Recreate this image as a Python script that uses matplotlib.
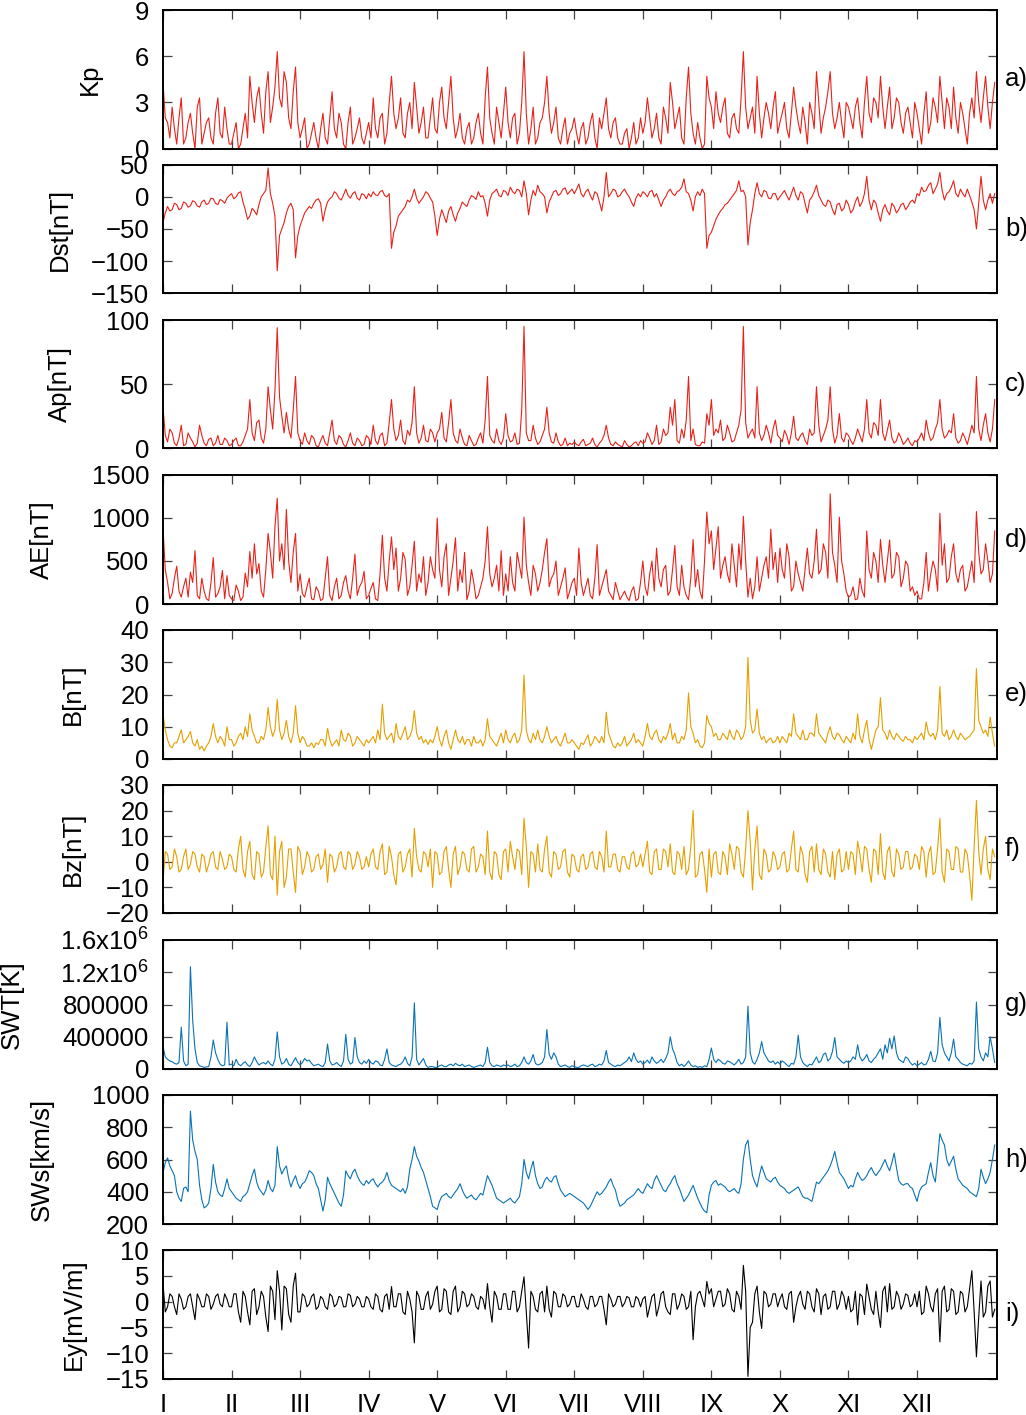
import numpy as np
import matplotlib.pyplot as plt

# readings on even days (0..364, 183 values) and odd days (1..363, 182 values)
day = np.arange(0, 365)

months = ['I', 'II', 'III', 'IV', 'V', 'VI', 'VII', 'VIII', 'IX', 'X', 'XI', 'XII']
month_days = [0, 30, 60, 90, 120, 150, 180, 210, 240, 270, 300, 330]

# --- values, one row per month (15 samples) ---
kp_even = [4.3, 1.7, 2.7, 0.3, 3.3, 0.7, 2.3, 0.0, 3.3, 1.0, 2.0, 0.3, 3.3, 0.7, 1.3,
           0.3, 1.7, 0.3, 2.3, 4.7, 1.7, 4.0, 1.0, 5.0, 2.7, 6.3, 2.7, 4.3, 1.3, 5.3,
           0.7, 2.0, 0.3, 1.7, 0.0, 2.3, 0.3, 3.7, 0.7, 1.7, 0.0, 2.7, 0.7, 2.0, 0.3,
           1.7, 3.3, 0.7, 2.3, 1.0, 4.7, 1.3, 3.3, 0.7, 3.0, 4.3, 1.0, 2.7, 0.7, 3.3,
           1.0, 4.0, 1.3, 4.7, 0.7, 2.3, 0.3, 1.7, 0.7, 2.3, 0.3, 5.3, 1.0, 2.7, 0.7,
           4.0, 0.7, 2.3, 1.0, 6.3, 0.3, 2.7, 0.7, 2.0, 4.7, 1.0, 2.7, 0.3, 2.0, 1.0,
           2.0, 0.3, 1.7, 0.7, 2.3, 0.0, 1.3, 3.3, 0.7, 2.0, 0.3, 1.0, 0.0, 1.7, 0.7,
           1.0, 3.3, 0.7, 2.3, 0.3, 2.0, 4.3, 1.3, 2.7, 0.3, 5.3, 1.0, 1.7, 0.0, 4.7,
           2.7, 3.7, 1.7, 3.3, 0.7, 2.3, 1.0, 6.3, 1.3, 2.7, 4.7, 0.7, 3.0, 1.3, 3.7,
           1.7, 3.0, 0.7, 4.0, 1.7, 2.7, 0.3, 2.3, 5.0, 1.0, 2.7, 5.0, 1.3, 3.0, 0.7,
           2.7, 1.3, 3.3, 0.7, 4.7, 1.7, 3.0, 4.7, 1.3, 4.0, 2.0, 3.0, 1.0, 2.7, 0.7,
           2.3, 0.3, 3.7, 1.7, 2.7, 4.7, 1.3, 2.7, 4.0, 1.0, 2.3, 0.3, 3.3, 5.0, 1.7,
           4.7, 1.3, 4.3]
kp_odd = [2.0, 0.7, 1.3, 2.0, 0.3, 1.7, 1.0, 2.7, 0.3, 1.7, 0.7, 2.3, 1.0, 2.7, 0.3,
          1.0, 0.0, 1.3, 0.7, 3.0, 3.3, 2.3, 3.7, 1.7, 4.0, 3.3, 5.0, 2.0, 3.7, 1.7,
          1.3, 0.0, 1.0, 0.7, 1.3, 0.7, 2.0, 1.3, 2.3, 0.3, 1.7, 0.3, 1.3, 0.7, 1.0,
          0.7, 1.3, 2.0, 0.3, 3.0, 2.3, 2.0, 1.0, 2.3, 1.3, 2.7, 1.7, 0.7, 2.0, 1.3,
          3.0, 2.0, 3.0, 2.0, 1.3, 0.7, 1.3, 0.3, 1.7, 1.0, 3.3, 2.0, 0.3, 1.7, 2.3,
          1.7, 2.0, 0.3, 3.0, 2.3, 1.3, 0.3, 1.7, 3.0, 2.3, 1.7, 0.7, 1.3, 0.3, 1.3,
          1.0, 1.3, 0.3, 1.7, 0.7, 2.0, 2.3, 1.3, 1.7, 0.7, 0.3, 1.3, 0.7, 0.3, 2.0,
          1.7, 2.0, 1.3, 0.7, 2.7, 1.0, 3.0, 2.0, 0.7, 3.3, 2.3, 0.3, 0.7, 0.3, 3.3,
          1.3, 2.3, 2.7, 1.0, 2.0, 1.3, 3.3, 2.7, 2.0, 1.0, 2.3, 2.0, 2.3, 2.7, 1.0,
          2.3, 1.3, 2.3, 2.7, 1.0, 1.7, 3.0, 1.3, 3.0, 2.0, 3.7, 2.3, 2.0, 1.7, 3.0,
          2.0, 2.7, 1.7, 3.0, 2.3, 3.3, 2.0, 2.7, 2.7, 1.3, 3.3, 1.7, 2.3, 1.7, 3.0,
          1.3, 2.3, 1.0, 3.3, 1.7, 3.0, 3.3, 1.3, 2.0, 3.0, 1.3, 2.3, 2.0, 3.0, 3.3,
          2.7, 3.0]

dst_even = [-40, -15, -20, -12, -18, -10, -14, -8, -16, -5, -10, -3, -12, -6, -2,
            5, 0, 8, -20, -30, -22, -12, 5, 45, -10, -115, -50, -25, -10, -95,
            -45, -25, -15, -10, -3, -38, -8, 0, 5, -5, 12, -2, 8, -5, 3,
            5, 8, 2, 10, 0, -80, -45, -25, -15, -8, 12, -10, 0, 5, -8,
            -60, -20, -40, -15, -38, -18, -12, -5, 0, 8, 2, -30, 5, 12, 0,
            8, 15, 5, 10, 25, -28, 10, 18, 5, -25, 0, 10, 5, 14, 8,
            5, 20, 0, 12, -5, 5, -22, 38, 5, 10, 2, 12, 0, -15, 5,
            8, 0, 10, 5, -15, 0, 12, 2, 10, 28, 5, -22, 8, 12, -80,
            -55, -35, -22, -12, -5, 5, 25, 10, -75, -20, 22, 0, 8, -3, 5,
            0, 10, -5, 15, -5, 5, -25, 0, 18, -5, -15, -8, -28, -10, -18,
            -12, -20, 0, -8, 32, -20, -10, -38, -12, -28, -15, -20, -10, -15, -5,
            5, 15, 10, 22, 12, 38, -5, 8, 25, 0, 5, 12, -8, -50, 32,
            -20, 5, 5]
dst_odd = [-25, -22, -10, -20, -8, -16, -6, -14, -8, -12, -2, -10, -4, -10, 2,
           -3, 6, -8, -35, -18, -28, 0, 10, 5, -30, -60, -40, -15, -20, -60,
           -35, -20, -18, -5, -10, -20, -3, 8, -2, 3, 2, 5, -2, 5, -3,
           0, 3, 8, 2, 5, -55, -30, -20, -5, 0, -2, -5, 8, -2, -30,
           -35, -30, -22, -28, -25, -8, -15, 2, -4, 0, -10, -5, 8, 2, 10,
           2, 8, 12, 0, 5, -5, 2, 8, 0, -8, 8, 2, 12, 4, 12,
           12, 5, 8, 2, 8, -8, 0, 0, 12, 0, 8, 5, -8, -2, 0,
           5, 8, 0, -5, -5, 8, 5, 8, 15, 8, -5, 0, 2, 5, -60,
           -45, -28, -18, -10, 0, 10, 8, 0, -40, 5, 5, 10, -2, 5, -5,
           5, 2, 5, 2, 8, -10, -5, 8, 2, -12, -5, -20, -12, -22, -5,
           -25, -8, -15, 5, -5, -5, -25, -20, -22, -10, -25, -12, -20, -8, -10,
           2, 8, 18, 5, 20, 10, 5, 15, 5, 12, 0, 2, -20, -10, -5,
           -5, -10]

ap_even = [32, 5, 12, 2, 18, 3, 8, 1, 18, 4, 7, 2, 10, 3, 6,
           3, 8, 2, 10, 38, 6, 22, 4, 48, 15, 94, 25, 28, 8, 56,
           6, 12, 3, 8, 1, 10, 2, 22, 3, 8, 1, 12, 2, 6, 3,
           8, 18, 3, 12, 4, 38, 6, 22, 3, 10, 48, 4, 18, 5, 12,
           12, 28, 5, 38, 6, 15, 3, 10, 2, 8, 4, 56, 6, 15, 3,
           27, 5, 12, 4, 95, 6, 18, 3, 10, 32, 5, 12, 2, 8, 4,
           5, 2, 7, 3, 8, 1, 6, 18, 3, 5, 2, 6, 1, 4, 2,
           4, 12, 3, 18, 5, 10, 32, 38, 4, 8, 56, 15, 2, 5, 27,
           38, 15, 22, 8, 12, 6, 18, 95, 8, 15, 48, 6, 18, 4, 22,
           8, 14, 3, 25, 6, 12, 3, 10, 48, 5, 15, 48, 4, 27, 5,
           10, 3, 15, 5, 38, 8, 18, 38, 6, 22, 4, 12, 3, 8, 2,
           5, 12, 22, 6, 15, 38, 8, 14, 27, 4, 12, 3, 18, 56, 6,
           27, 5, 38]
ap_odd = [10, 15, 4, 8, 2, 12, 5, 4, 10, 2, 8, 4, 3, 8, 2,
          6, 2, 5, 15, 12, 20, 8, 15, 30, 45, 40, 12, 15, 30, 12,
          3, 6, 10, 2, 6, 4, 12, 6, 10, 3, 6, 4, 8, 2, 10,
          3, 6, 10, 2, 20, 15, 10, 6, 14, 20, 12, 8, 6, 15, 5,
          15, 8, 20, 12, 4, 8, 2, 6, 3, 12, 22, 10, 4, 6, 8,
          10, 6, 3, 30, 12, 6, 8, 5, 15, 12, 4, 5, 3, 2, 3,
          3, 5, 2, 4, 3, 4, 10, 8, 2, 3, 1, 3, 2, 5, 6,
          5, 8, 6, 3, 15, 12, 18, 6, 15, 22, 6, 3, 2, 4, 18,
          10, 12, 6, 18, 5, 12, 30, 20, 12, 8, 12, 10, 12, 15, 10,
          5, 10, 12, 8, 10, 6, 15, 12, 18, 10, 22, 15, 10, 8, 12,
          6, 8, 10, 15, 12, 20, 10, 12, 14, 8, 6, 8, 5, 4, 6,
          8, 6, 12, 8, 20, 15, 10, 12, 8, 6, 8, 10, 12, 15, 18,
          12, 15]

ae_even = [880, 250, 120, 440, 80, 300, 370, 620, 60, 150, 40, 540, 120, 390, 330,
           60, 220, 40, 360, 610, 700, 470, 80, 820, 300, 1230, 700, 1100, 250, 820,
           350, 80, 300, 50, 150, 60, 550, 40, 300, 100, 330, 60, 580, 200, 380,
           100, 250, 40, 800, 150, 780, 650, 300, 520, 200, 730, 350, 550, 250, 400,
           1000, 200, 700, 300, 770, 400, 600, 150, 250, 100, 300, 900, 200, 450, 620,
           350, 550, 150, 450, 1010, 250, 450, 150, 400, 760, 300, 500, 200, 420, 150,
           300, 650, 100, 300, 60, 690, 200, 400, 100, 250, 50, 150, 40, 200, 60,
           500, 100, 500, 650, 200, 450, 150, 680, 100, 200, 50, 750, 400, 60, 1070,
           850, 650, 300, 550, 250, 450, 700, 1020, 80, 60, 550, 300, 550, 870, 600,
           650, 300, 550, 200, 350, 150, 650, 300, 870, 400, 600, 1280, 450, 1010, 350,
           80, 200, 60, 150, 850, 300, 500, 750, 250, 745, 350, 550, 300, 450, 200,
           150, 60, 600, 350, 400, 1055, 700, 300, 700, 250, 450, 200, 500, 1075, 350,
           700, 250, 850]
ae_odd = [400, 60, 300, 150, 200, 80, 250, 100, 300, 60, 250, 80, 200, 60, 100,
          40, 150, 80, 200, 300, 350, 150, 400, 600, 900, 500, 400, 500, 600, 150,
          120, 200, 60, 200, 40, 300, 100, 200, 60, 250, 150, 300, 100, 250, 60,
          180, 60, 350, 300, 500, 400, 150, 600, 100, 450, 150, 250, 100, 550, 300,
          400, 550, 100, 500, 150, 250, 50, 400, 60, 200, 500, 350, 300, 150, 100,
          150, 250, 600, 300, 450, 100, 350, 250, 600, 200, 350, 100, 300, 60, 250,
          100, 250, 200, 100, 300, 100, 300, 150, 50, 150, 100, 80, 150, 40, 250,
          200, 350, 150, 300, 400, 100, 400, 200, 450, 100, 300, 200, 150, 500, 700,
          400, 900, 450, 350, 700, 200, 400, 500, 300, 200, 150, 450, 300, 400, 250,
          400, 700, 150, 500, 250, 400, 350, 500, 350, 700, 300, 600, 250, 500, 150,
          100, 50, 300, 80, 400, 600, 250, 450, 500, 300, 600, 200, 500, 150, 100,
          60, 250, 150, 500, 150, 450, 250, 550, 350, 400, 150, 350, 250, 600, 400,
          500, 350]

b_even = [14, 6, 3.5, 5, 9, 6, 8.5, 4, 3, 2.5, 5, 11, 5, 6, 10,
          6, 5, 8, 10, 14, 7, 5, 6, 16, 7, 18.5, 6, 12, 5, 16.5,
          5, 6, 4, 3.5, 4.5, 6, 9.5, 4, 6, 9, 5.5, 7, 5, 6, 4,
          5, 7, 9, 17, 6, 8, 11, 6, 10, 7, 15, 6, 5, 4.5, 5,
          10, 4, 9, 3, 9, 5, 4.5, 6, 7, 5, 4, 12.5, 6, 4, 8,
          9, 5, 8, 6, 26, 6, 8, 9, 5, 10, 5, 7, 4, 8, 5,
          5, 3, 4.5, 7.5, 5, 6, 7, 14.5, 6, 3.5, 4, 7, 5, 8, 6,
          4, 11, 6, 9, 5, 6, 11, 8, 5, 6, 20.5, 8, 6, 3.5, 13.5,
          10, 8, 6, 7, 9, 6, 8, 7, 31.5, 8, 15.5, 6, 5, 6.5, 5.5,
          5, 6, 8, 14, 7, 9, 6, 8, 14, 7, 5, 10, 6, 7.5, 5,
          6, 8, 14, 5, 12, 3, 9, 19, 8, 9, 6, 7, 5.5, 6, 5,
          6, 8, 11.5, 7, 6, 22.5, 7, 6, 9, 6, 7, 6.5, 8, 28, 10,
          9, 13, 4]
b_odd = [9, 4, 5, 7, 5, 7, 5, 6, 4, 4, 7, 7, 7, 4, 6,
         4, 7, 6, 7, 9, 5, 7, 9, 10, 9, 9, 8, 7, 8, 8,
         7, 4, 5, 5, 6, 4, 6, 5, 4, 6, 8, 4, 7, 5, 6,
         6, 5, 6, 8, 7, 5, 7, 8, 6, 9, 8, 7, 6, 6, 7,
         6, 7, 5, 6, 6, 7, 6, 4, 5, 6, 6, 7, 5, 6, 5,
         6, 7, 5, 9, 9, 5, 6, 6, 7, 7, 6, 5, 6, 5, 6,
         4, 5, 6, 4, 7, 5, 5, 8, 4, 5, 5, 4, 6, 5, 5,
         7, 7, 8, 6, 7, 8, 6, 5, 7, 9, 10, 5, 4, 5, 11,
         7, 6, 8, 6, 7, 9, 6, 10, 12, 9, 8, 7, 6, 5, 7,
         7, 5, 7, 8, 6, 6, 8, 7, 8, 6, 8, 7, 8, 6, 7,
         5, 6, 7, 9, 6, 6, 10, 9, 6, 7, 8, 6, 7, 6, 7,
         7, 6, 8, 8, 9, 8, 9, 7, 7, 8, 6, 7, 9, 12, 8,
         7, 8]

bz_even = [-8, 3, -2, 2, -3, 5, -1, 3, -4, 2, -1, 4, -3, 1, -2,
           2, -4, 10, -6, 8, -7, 3, -4, 14, -7, -13, 8, -6, 5, -12,
           4, -2, 2, -3, 3, -1, -8, 2, -2, 4, -3, 3, -1, 2, -2,
           -2, 5, -3, 7, -4, 2, -9, 4, -2, 5, 13, -3, 4, -2, -10,
           3, -4, 6, -10, 6, -2, 3, -4, 6, -2, 2, 12, -7, 3, -7,
           5, 8, -3, 4, 17, -10, 3, 7, -4, 10, -6, 3, -2, 5, -6,
           2, -4, 3, -2, 4, -3, 2, 12, -2, 3, -4, 2, -3, 4, -1,
           -2, 8, -5, 5, -3, 4, 7, -5, 3, 6, -3, 20, -5, 4, -12,
           -6, 4, -5, 2, 7, -3, 5, -6, 20, -11, 14, -7, 3, -3, 2,
           -2, 4, -3, 12, -4, 3, -8, 6, 7, -5, 3, -6, -7, 5, -3,
           -3, 3, 8, -4, 5, -8, 4, 11, -7, 6, -6, 3, -2, 4, -2,
           2, 6, -6, 6, -4, 17, -8, 4, -3, 5, -4, 3, -15, 24, -5,
           10, -7, 2]
bz_odd = [4, -3, 5, -4, 2, -3, 4, -2, 3, -4, 3, -2, 4, -3, 3,
          -3, 5, -3, 4, -5, 4, -6, 6, -5, 10, 4, -10, 5, -4, 6,
          -5, 4, -4, 2, -3, 5, 3, -4, 3, -2, 4, -3, 4, -3, 2,
          3, -2, 4, -5, 6, -5, 3, -4, 3, -6, 2, -4, 3, 5, 4,
          -5, 4, -3, 3, -5, 4, -3, 5, -4, 3, -5, -4, 4, -5, 4,
          -4, 2, 5, -5, 6, 4, -4, -3, 5, -4, 4, -3, 4, -4, 3,
          -3, 2, -3, 3, -2, 4, -4, -2, 3, -3, 2, -2, 3, -2, 3,
          3, -4, 4, -3, 5, -2, -4, 4, -3, -5, 6, -6, 3, -3, 5,
          3, -4, 4, -5, 3, 6, -4, 5, 8, 5, -5, 5, -4, 4, -3,
          3, -4, 5, -3, 6, -5, 4, -4, -3, 5, -4, 4, 3, -4, 4,
          4, -5, 3, 6, -3, 5, -5, -4, 4, -4, 5, -3, 4, -3, 3,
          -3, 4, 3, -5, 5, -4, 5, -3, 6, -4, 5, -5, 6, 4, 5,
          -3, 5]

# solar wind temperature in thousands of K
swt_even = [280, 120, 90, 60, 520, 40, 1270, 250, 40, 20, 30, 360, 120, 40, 580,
            60, 120, 40, 90, 30, 150, 50, 80, 100, 40, 460, 60, 130, 40, 140,
            50, 130, 110, 40, 60, 30, 310, 50, 80, 30, 430, 60, 390, 80, 100,
            120, 60, 90, 40, 250, 50, 30, 60, 150, 40, 820, 50, 130, 20, 30,
            20, 50, 30, 60, 70, 40, 30, 50, 20, 40, 30, 270, 40, 50, 30,
            40, 30, 60, 40, 150, 60, 180, 50, 80, 490, 120, 150, 30, 50, 20,
            30, 20, 50, 30, 60, 40, 50, 230, 60, 30, 40, 80, 150, 200, 80,
            60, 110, 150, 70, 120, 130, 400, 180, 40, 30, 100, 30, 20, 20, 30,
            260, 80, 100, 60, 90, 50, 120, 80, 780, 90, 120, 340, 150, 80, 60,
            60, 80, 30, 60, 420, 80, 30, 50, 150, 100, 200, 130, 390, 120, 70,
            80, 150, 300, 100, 180, 80, 150, 250, 300, 380, 410, 120, 80, 130, 50,
            40, 80, 60, 220, 90, 640, 200, 100, 370, 120, 60, 40, 60, 830, 150,
            200, 400, 80]
swt_odd = [150, 100, 70, 80, 100, 60, 600, 80, 30, 25, 150, 200, 60, 50, 50,
           40, 60, 70, 50, 80, 90, 70, 60, 60, 120, 150, 80, 60, 90, 80,
           80, 100, 70, 50, 40, 80, 100, 60, 50, 100, 120, 80, 150, 60, 70,
           80, 100, 50, 120, 80, 40, 50, 90, 70, 150, 120, 90, 50, 30, 20,
           40, 30, 50, 40, 50, 60, 40, 30, 30, 50, 80, 80, 30, 40, 50,
           50, 40, 30, 80, 80, 100, 70, 60, 150, 180, 200, 60, 40, 30, 40,
           20, 40, 40, 50, 30, 60, 100, 80, 40, 50, 60, 100, 90, 120, 100,
           80, 70, 100, 90, 80, 200, 250, 80, 60, 60, 50, 40, 30, 40, 120,
           120, 120, 70, 100, 70, 80, 60, 150, 200, 60, 200, 200, 100, 100, 90,
           100, 50, 70, 150, 150, 50, 60, 100, 80, 180, 100, 220, 150, 90, 100,
           100, 120, 150, 130, 100, 120, 200, 120, 200, 250, 200, 100, 150, 80, 70,
           60, 50, 120, 100, 200, 300, 150, 200, 150, 80, 50, 70, 100, 250, 100,
           150, 250]

sws_even = [520, 610, 530, 400, 340, 430, 900, 650, 440, 300, 330, 570, 400, 370, 480,
            400, 360, 340, 380, 450, 540, 420, 380, 470, 400, 680, 510, 560, 430, 500,
            420, 460, 530, 500, 420, 280, 490, 420, 360, 310, 530, 480, 540, 470, 440,
            450, 480, 430, 460, 520, 440, 420, 400, 390, 540, 680, 590, 520, 420, 310,
            290, 370, 390, 360, 400, 450, 380, 370, 360, 370, 380, 500, 440, 360, 340,
            340, 360, 330, 370, 600, 480, 590, 450, 430, 490, 460, 500, 410, 370, 390,
            370, 350, 330, 290, 340, 400, 390, 430, 480, 410, 310, 330, 360, 380, 420,
            390, 450, 420, 500, 440, 400, 450, 500, 420, 340, 380, 440, 360, 300, 270,
            440, 470, 450, 430, 400, 420, 390, 600, 720, 500, 430, 560, 480, 460, 490,
            440, 420, 390, 410, 430, 370, 360, 340, 460, 470, 510, 560, 650, 520, 480,
            420, 430, 520, 470, 500, 550, 500, 540, 600, 530, 640, 470, 440, 450, 420,
            340, 430, 450, 580, 460, 760, 690, 560, 620, 480, 440, 420, 390, 370, 540,
            450, 520, 690]
sws_odd = [580, 560, 500, 360, 420, 400, 720, 600, 350, 310, 420, 460, 380, 420, 420,
           380, 350, 370, 400, 500, 460, 400, 410, 420, 440, 560, 540, 480, 470, 450,
           450, 490, 520, 450, 350, 350, 450, 390, 330, 380, 500, 520, 500, 450, 470,
           470, 450, 450, 480, 470, 430, 410, 420, 430, 600, 620, 550, 470, 370, 300,
           340, 380, 370, 380, 420, 410, 360, 380, 350, 390, 440, 470, 400, 350, 330,
           350, 340, 350, 450, 520, 540, 500, 420, 470, 470, 490, 450, 390, 380, 380,
           360, 340, 310, 310, 370, 380, 410, 460, 440, 350, 320, 350, 370, 400, 400,
           420, 430, 470, 470, 410, 430, 480, 450, 380, 360, 410, 400, 330, 280, 380,
           460, 440, 440, 410, 410, 400, 450, 690, 600, 460, 500, 520, 470, 480, 460,
           430, 400, 400, 420, 400, 360, 350, 400, 450, 490, 530, 600, 580, 500, 450,
           440, 480, 490, 480, 530, 520, 520, 570, 560, 580, 550, 450, 450, 430, 380,
           400, 440, 520, 500, 600, 720, 600, 590, 540, 460, 430, 400, 380, 420, 490,
           480, 600]

ey_even = [3.5, -1, 1, -2.5, 0.5, -1, 1.5, -3.5, 0.5, -1, 1, -0.5, 1.5, -1, 0.5,
           -1, 1.5, -4, 1, -4.5, 2.5, -1, 1, -5.8, 2, 6, -5.5, 2.5, -4, 5.5,
           -2, 1, -0.5, 1.5, -1, 0.5, -1.5, 1, -0.5, 0.8, -1, 1.2, -0.5, 0.5, -1,
           0.5, -1.5, 1, -2, 1.5, 2.9, -1, 1.5, -2.5, 0.5, -8, 1, -1.5, 2, -0.5,
           3, -1.5, 2, -2.5, 3, -1, 1.5, -0.5, 1, -1.5, 0.5, 3.5, -4, 1, -1.5,
           1.5, -1.5, 2, -1, 4.8, -9, 1, -2, 2, 3, -3, 1.5, -1, 1, -0.5,
           1, -1, 0.5, -1.5, 1, -0.5, 1, -4.5, 0.5, -0.5, 1, -0.3, 0.7, -1, 0.5,
           0.5, -3, 1, -2.8, 1.5, -1, -2.5, 1.5, -0.5, 1, -1, -7.4, 1.5, 0.5, 3.9,
           2.5, 0.5, 2, -0.5, 1.5, -2, 1, 7, -14.5, -4, 3, -5.2, 1.5, -0.5, 1.5,
           0.5, -1, 1.5, -4, 1, -0.5, 2, -1, 2.5, -2.5, 1.5, -1, 2, -0.5, 1,
           1, -1.5, -4.5, 1, 3.4, -1.5, 2, -5, 3, 3.5, -1, 1, -0.5, 1.2, -0.5,
           -1, -2.5, 3, -1, 1.5, -7.8, 3, -1.5, 2, -2, 1.5, -1, 6, -10.7, 4,
           -2, 4, -1.5]
ey_odd = [-2, 1.5, -1, 1.5, -1.5, 1, -1, 1.5, -1, 1.5, -1.5, 1, -0.5, 1.5, -1,
          1.5, -2, 2, -2, 2, -2.5, 2, -3, 3, -3.5, 2, 3, -2.5, 3, -2,
          1.5, -1, 1, -1.5, 1, -1, 1.5, -1, 1, -1, 1.5, -1, 1, -1, 1,
          -1, 1.5, -1.5, 1, -1.5, -1, 1.5, -2, 2, -2, 2, -1.5, 1, -1.5, 2,
          -2, 2.5, -2, 2, -2, 2, -1, 1.5, -1, 1, -1.5, -1, 2, -1.5, 1.5,
          -1.5, 2, -2, 2, -2, 2, -1.5, 1.5, -2, -1.5, 2, -1, 1.5, -1, 1,
          -1, 1.5, -1, 1, -1, 1, -1.5, 1.5, -1, 1, -1, 1, -1, 1, -1,
          1, -1, 1.5, -1, 2, -2, 1.5, -1.5, 1.5, -1.5, 2, -1, 2, -1, 1.5,
          -1, 2, -1, 2.5, -1.5, 2, -1.5, 2, -5, 1.5, -2, 2, -1, 1.5, -1,
          1.5, -1.5, 2, -1, 2, -1.5, 1.5, -2, 1.5, 1, -1.5, 2, -1.5, 2, -1.5,
          -2, 2, 1.5, -2.5, 1, -2.5, -2, 2, -2, -1.5, 2, -1.5, 1.5, -1, 1.5,
          2, -2, 1.5, -2, 2.5, 2, -2, 2.5, -2.5, 2, -2, 2.5, -2, -3, -3,
          3, -3]


def daily(even, odd):
    # put the even-day and odd-day readings back in day order
    out = np.empty(len(even) + len(odd))
    out[0::2] = even
    out[1::2] = odd
    return out


plt.rcParams['font.family'] = ['Liberation Sans', 'DejaVu Sans']
plt.rcParams['mathtext.fontset'] = 'custom'
plt.rcParams['mathtext.rm'] = 'Liberation Sans'
plt.rcParams['mathtext.default'] = 'regular'

RED = '#e8221a'
ORANGE = '#e69f00'
BLUE = '#0a72b4'

# label, values, colour, y range, y ticks, tick labels, panel tag
panels = [
    ('Kp', daily(kp_even, kp_odd), RED, (0, 9), [0, 3, 6, 9], None, 'a)'),
    ('Dst[nT]', daily(dst_even, dst_odd), RED, (-150, 50), [-150, -100, -50, 0, 50], None, 'b)'),
    ('Ap[nT]', daily(ap_even, ap_odd), RED, (0, 100), [0, 50, 100], None, 'c)'),
    ('AE[nT]', daily(ae_even, ae_odd), RED, (0, 1500), [0, 500, 1000, 1500], None, 'd)'),
    ('B[nT]', daily(b_even, b_odd), ORANGE, (0, 40), [0, 10, 20, 30, 40], None, 'e)'),
    ('Bz[nT]', daily(bz_even, bz_odd), ORANGE, (-20, 30), [-20, -10, 0, 10, 20, 30], None, 'f)'),
    ('SWT[K]', daily(swt_even, swt_odd) * 1000, BLUE, (0, 1.6e6),
     [0, 4e5, 8e5, 1.2e6, 1.6e6],
     ['0', '400000', '800000', '1.2x10$^6$', '1.6x10$^6$'], 'g)'),
    ('SWs[km/s]', daily(sws_even, sws_odd), BLUE, (200, 1000), [200, 400, 600, 800, 1000], None, 'h)'),
    ('Ey[mV/m]', daily(ey_even, ey_odd), 'black', (-15, 10), [-15, -10, -5, 0, 5, 10], None, 'i)'),
]

# panel frames in pixels of the 1026x1415 picture
W, H = 1026, 1415
left_px, right_px = 163, 997
tops = [10, 164.7, 320, 475, 630, 785, 940, 1095, 1250]
bottoms = [148.7, 293.3, 448.3, 604, 759, 913, 1069, 1224, 1379]
label_x = [90, 60, 60, 42, 73, 73, 12, 42, 74]

fig = plt.figure(figsize=(W / 100, H / 100), dpi=100)

for i, (name, vals, col, ylim, yt, ytl, tag) in enumerate(panels):
    ax = fig.add_axes([left_px / W, 1 - bottoms[i] / H,
                       (right_px - left_px) / W, (bottoms[i] - tops[i]) / H])
    ax.plot(day, vals, color=col, lw=0.8)
    ax.set_xlim(0, 365)
    ax.set_ylim(*ylim)
    ax.set_yticks(yt)
    if ytl is not None:
        ax.set_yticklabels(ytl)
    ax.set_xticks(month_days)
    if i == len(panels) - 1:
        ax.set_xticklabels(months)
    else:
        ax.set_xticklabels([])
    ax.tick_params(direction='in', length=6.5, width=0.9, color='#444444',
                   top=True, right=True, labelsize=18.5, pad=10)
    for sp in ax.spines.values():
        sp.set_linewidth(1.4)
    lx = (label_x[i] - left_px) / (right_px - left_px)
    ax.text(lx, 0.5, name, transform=ax.transAxes, rotation=90,
            ha='center', va='center', fontsize=18.5)
    ax.text(1.0096, 0.5, tag, transform=ax.transAxes,
            ha='left', va='center', fontsize=18.5)

fig.savefig('out.png', dpi=100)
